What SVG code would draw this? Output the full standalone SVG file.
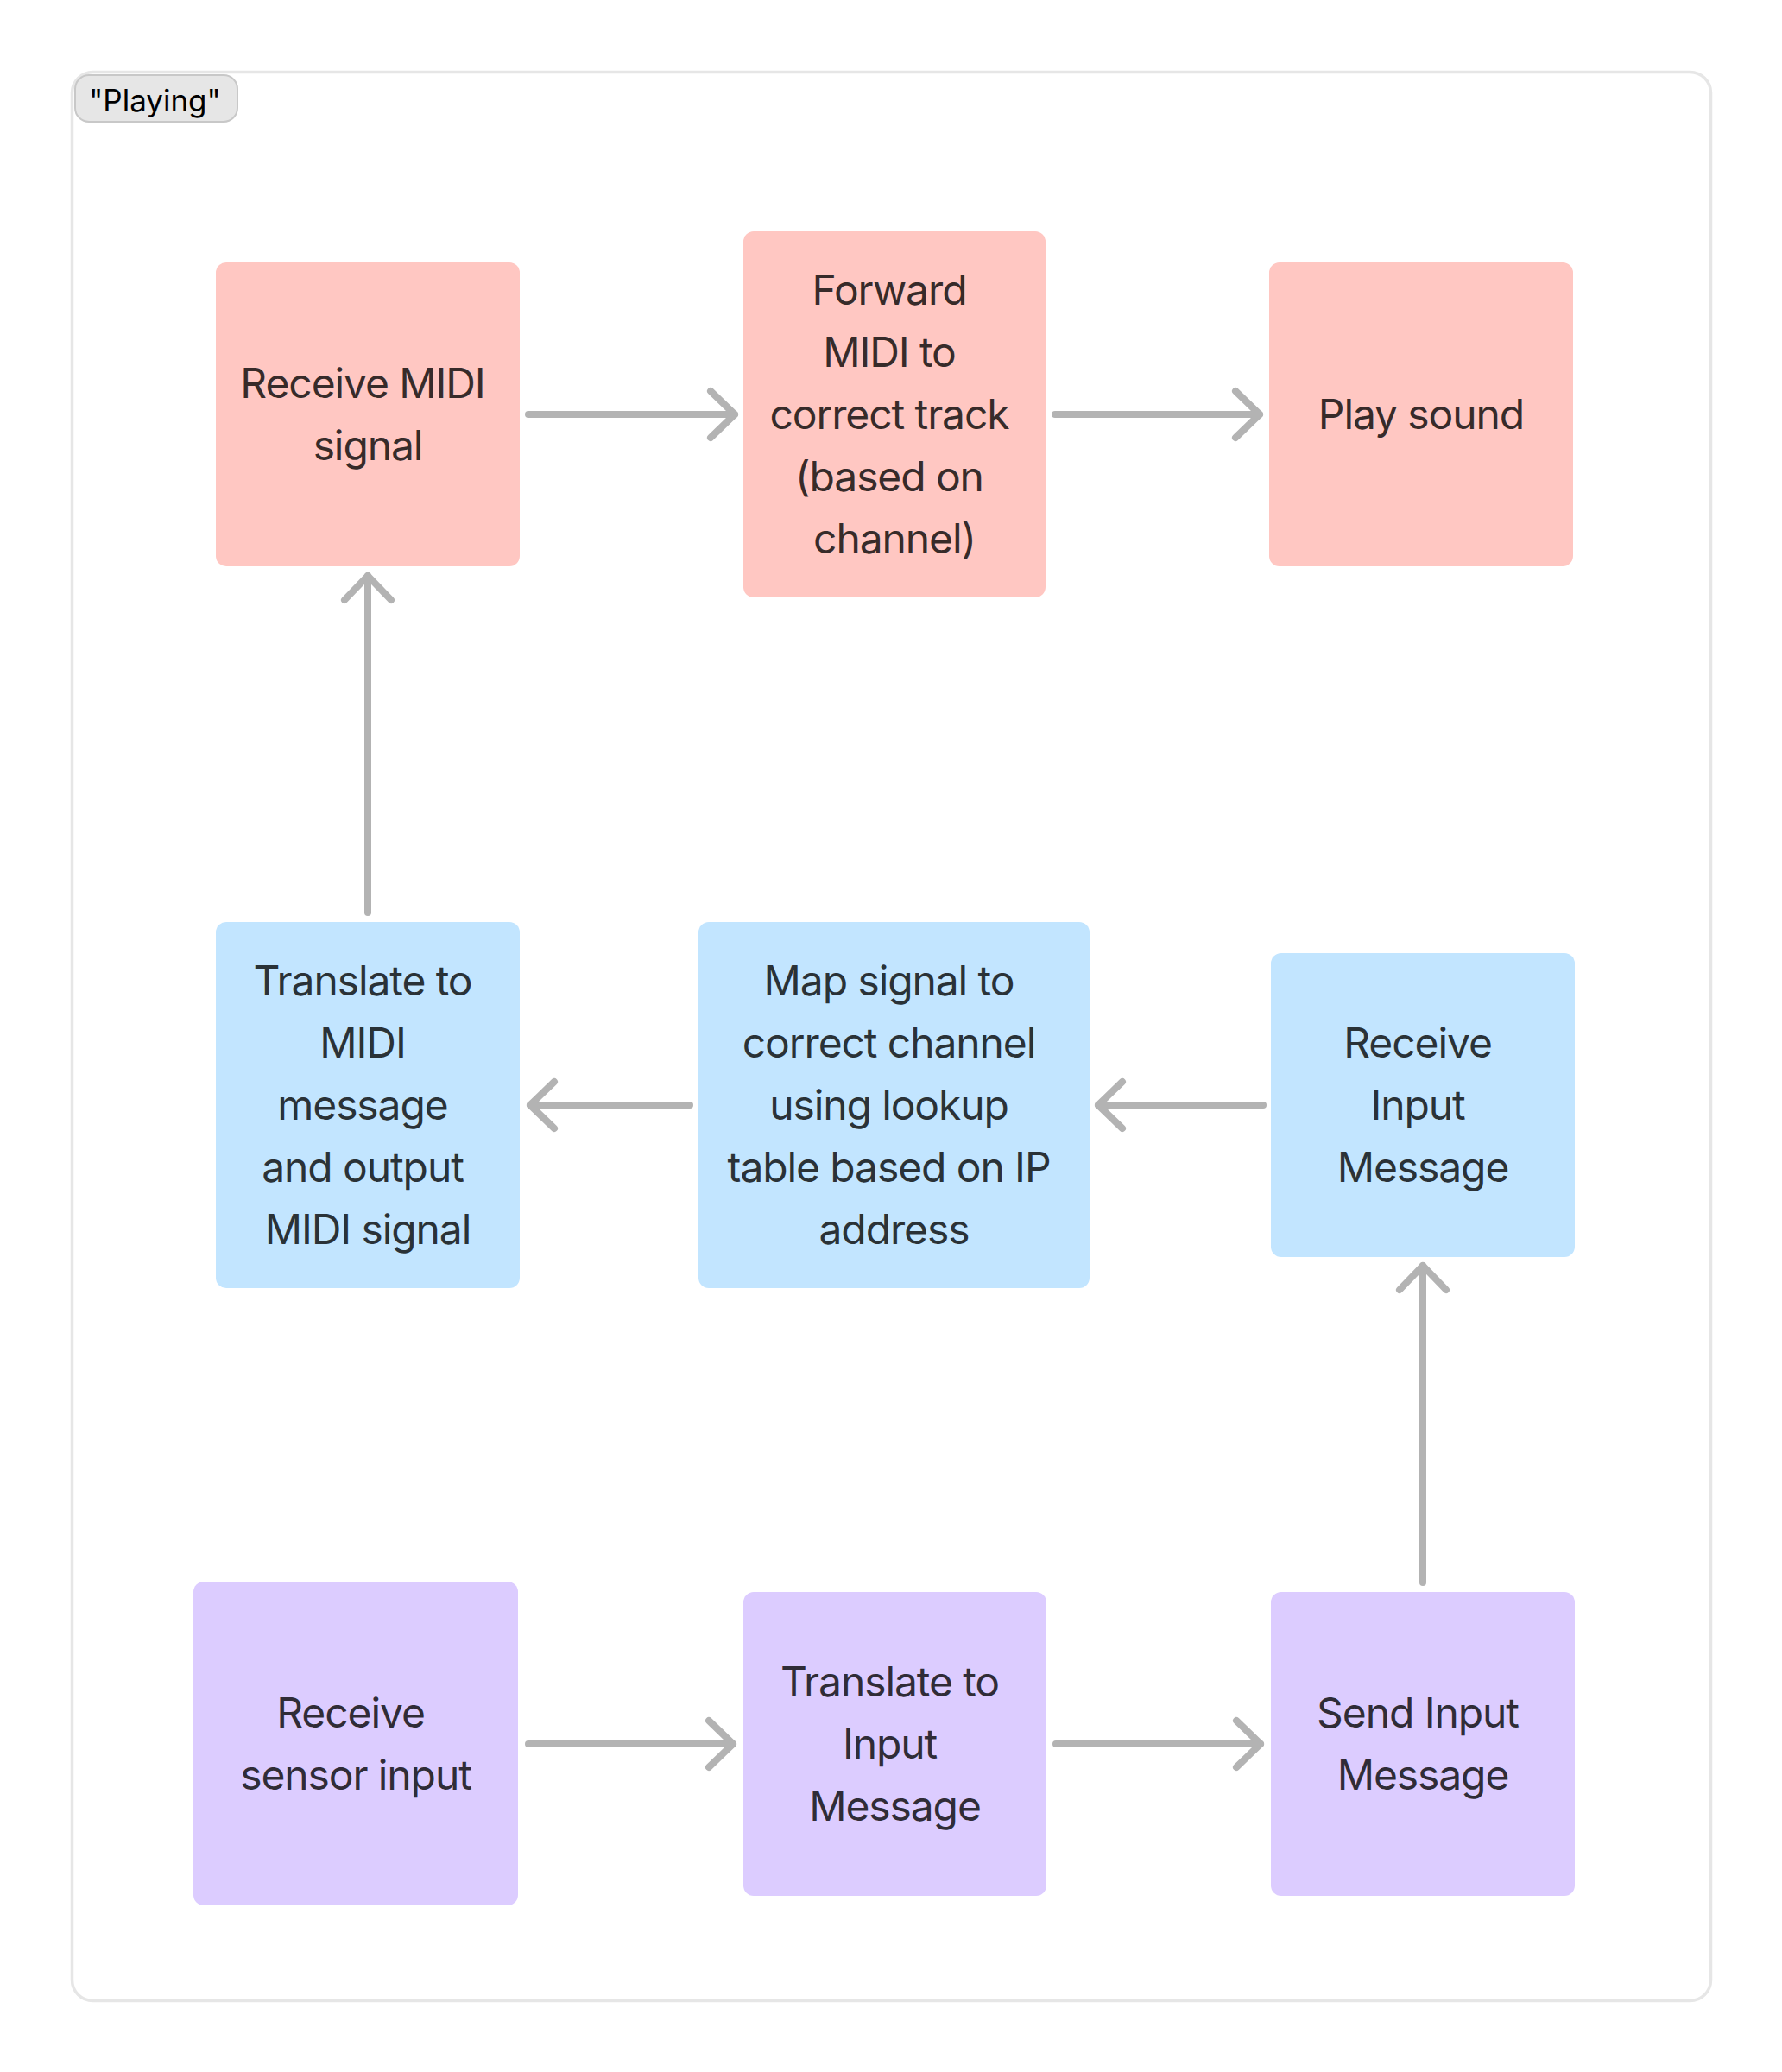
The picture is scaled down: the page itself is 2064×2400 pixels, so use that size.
<svg xmlns="http://www.w3.org/2000/svg" width="2064" height="2400" viewBox="0 0 2064 2400">
<style>
.frame{fill:#ffffff;stroke:#e6e6e6;stroke-width:3.5}
.tag{fill:#e6e6e6;stroke:#c8c8c8;stroke-width:2}
.tagtext{font-family:Inter,"Noto Sans",sans-serif;font-size:35px;fill:#000}
.red{fill:#ffc7c2}
.blue{fill:#c2e5ff}
.violet{fill:#dcccff}
.t{font-family:Inter,"Noto Sans",sans-serif;font-size:48px;letter-spacing:-1.1px;fill:#000;fill-opacity:0.8;text-anchor:middle}
.edge{fill:none;stroke:#b3b3b3;stroke-width:8;stroke-linecap:round;marker-end:url(#head)}
</style>
<defs>
<marker id="head" markerUnits="userSpaceOnUse" viewBox="-40 -40 50 80" refX="0" refY="0" markerWidth="50" markerHeight="80" orient="auto">
<path d="M -28 -27 L 0 0 L -28 27" fill="none" stroke="#b3b3b3" stroke-width="8" stroke-linecap="round" stroke-linejoin="round"/>
</marker>
</defs>
<rect width="2064" height="2400" fill="#ffffff"/>
<g id="section-playing">
<rect class="frame" x="83.5" y="83.5" width="1898" height="2234" rx="24"/>
<rect class="tag" x="87" y="87" width="188" height="54" rx="16"/>
<text class="tagtext" x="103" y="129">"Playing"</text>
</g>
<g id="connectors">
<path class="edge" d="M 612 480 L 851 480"/>
<path class="edge" d="M 1222 480 L 1459 480"/>
<path class="edge" d="M 426 1057 L 426 667"/>
<path class="edge" d="M 799 1280 L 614 1280"/>
<path class="edge" d="M 1463 1280 L 1272 1280"/>
<path class="edge" d="M 1648 1833 L 1648 1466"/>
<path class="edge" d="M 612 2020 L 849 2020"/>
<path class="edge" d="M 1223 2020 L 1460 2020"/>
</g>
<g id="receive-midi">
<rect class="red" x="250" y="304" width="352" height="352" rx="12"/>
<text class="t"><tspan x="420" y="461">Receive MIDI</tspan><tspan x="426" y="533">signal</tspan></text>
</g>
<g id="forward-midi">
<rect class="red" x="861" y="268" width="350" height="424" rx="12"/>
<text class="t"><tspan x="1030" y="353">Forward</tspan><tspan x="1030" y="425">MIDI to</tspan><tspan x="1030" y="497">correct track</tspan><tspan x="1030" y="569">(based on</tspan><tspan x="1036" y="641">channel)</tspan></text>
</g>
<g id="play-sound">
<rect class="red" x="1470" y="304" width="352" height="352" rx="12"/>
<text class="t"><tspan x="1646" y="497">Play sound</tspan></text>
</g>
<g id="translate-midi">
<rect class="blue" x="250" y="1068" width="352" height="424" rx="12"/>
<text class="t"><tspan x="420" y="1153">Translate to</tspan><tspan x="420" y="1225">MIDI</tspan><tspan x="420" y="1297">message</tspan><tspan x="420" y="1369">and output</tspan><tspan x="426" y="1441">MIDI signal</tspan></text>
</g>
<g id="map-signal">
<rect class="blue" x="809" y="1068" width="453" height="424" rx="12"/>
<text class="t"><tspan x="1029.5" y="1153">Map signal to</tspan><tspan x="1029.5" y="1225">correct channel</tspan><tspan x="1029.5" y="1297">using lookup</tspan><tspan x="1029.5" y="1369">table based on IP</tspan><tspan x="1035.5" y="1441">address</tspan></text>
</g>
<g id="receive-input">
<rect class="blue" x="1472" y="1104" width="352" height="352" rx="12"/>
<text class="t"><tspan x="1642" y="1225">Receive</tspan><tspan x="1642" y="1297">Input</tspan><tspan x="1648" y="1369">Message</tspan></text>
</g>
<g id="receive-sensor">
<rect class="violet" x="224" y="1832" width="376" height="375" rx="12"/>
<text class="t"><tspan x="406" y="2001">Receive</tspan><tspan x="412" y="2073">sensor input</tspan></text>
</g>
<g id="translate-input">
<rect class="violet" x="861" y="1844" width="351" height="352" rx="12"/>
<text class="t"><tspan x="1030.5" y="1965">Translate to</tspan><tspan x="1030.5" y="2037">Input</tspan><tspan x="1036.5" y="2109">Message</tspan></text>
</g>
<g id="send-input">
<rect class="violet" x="1472" y="1844" width="352" height="352" rx="12"/>
<text class="t"><tspan x="1642" y="2001">Send Input</tspan><tspan x="1648" y="2073">Message</tspan></text>
</g>
</svg>
